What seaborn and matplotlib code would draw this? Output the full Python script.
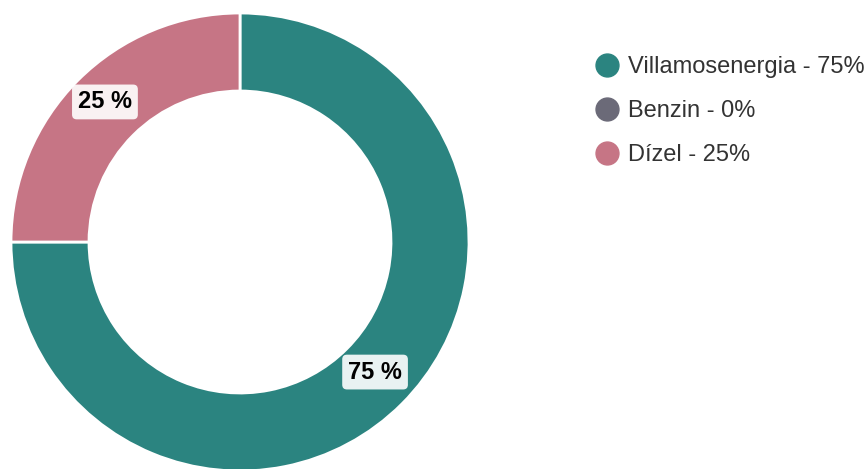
import matplotlib
matplotlib.use("Agg")
import matplotlib.pyplot as plt
from matplotlib.lines import Line2D
import numpy as np
import seaborn as sns

# Data
categories = ["Villamosenergia", "Benzin", "Dízel"]
shares = [75, 0, 25]
colors = ["#2b8480", "#6b6a78", "#c67585"]

sns.set_theme(style="white")
plt.rcParams['font.family'] = ['Liberation Sans', 'DejaVu Sans']

fig = plt.figure(figsize=(8.64, 4.69), dpi=100)
W, H = 864, 469
cx, cy, r = 240, 242, 229
ax = fig.add_axes([(cx - r) / W, (H - cy - r) / H, 2 * r / W, 2 * r / H])

# only draw non-zero slices
vals = [v for v in shares if v > 0]
cols = [c for v, c in zip(shares, colors) if v > 0]
wedges, _ = ax.pie(vals, colors=cols, startangle=90, counterclock=False,
                   radius=1, wedgeprops=dict(width=78 / r, edgecolor="white", linewidth=2))
ax.set_xlim(-1, 1)
ax.set_ylim(-1, 1)
ax.set_aspect("equal")
ax.axis("off")

# percentage labels in the middle of each ring slice
start = 90
for v in vals:
    mid = np.deg2rad(start - v / 100 * 360 / 2)
    start -= v / 100 * 360
    rr = 191 / r
    ax.text(rr * np.cos(mid), rr * np.sin(mid) + 5 / r, f"{v} %", ha="center", va="center",
            fontsize=17, fontweight="bold", color="black",
            bbox=dict(boxstyle="round,pad=0.25,rounding_size=0.2", fc="white", ec="none", alpha=0.9))

handles = [Line2D([], [], marker="o", linestyle="", markersize=16.5, markerfacecolor=c,
                  markeredgecolor=c) for c in colors]
labels = [f"{c} - {v}%" for c, v in zip(categories, shares)]
fig.legend(handles, labels, loc="upper left", bbox_to_anchor=(574 / W, 1 - 47 / H),
           frameon=False, fontsize=17, labelspacing=0.93, handletextpad=-0.1,
           labelcolor="#333333", borderaxespad=0)

fig.savefig("out.png", dpi=100)
